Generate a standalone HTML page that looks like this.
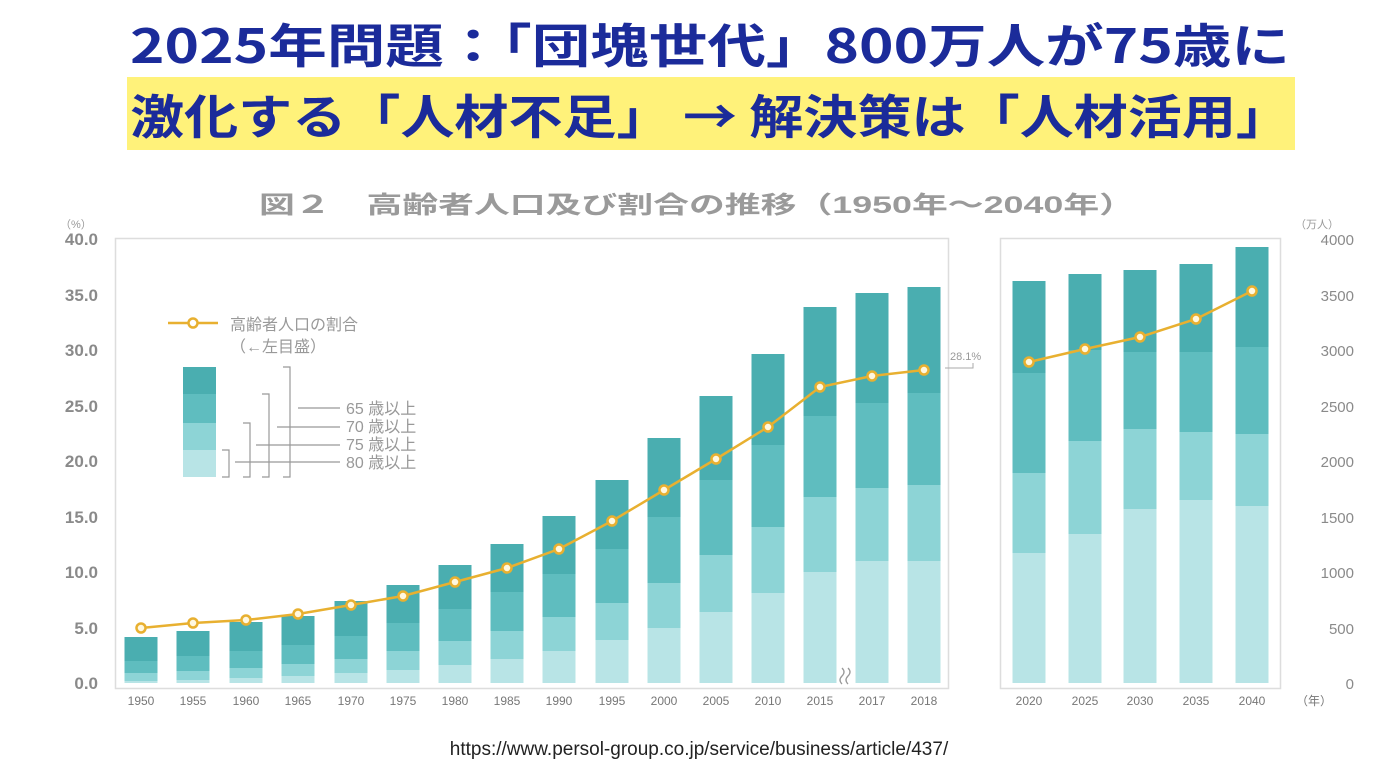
<!DOCTYPE html>
<html><head><meta charset="utf-8"><style>
html,body{margin:0;padding:0;background:#fff;width:1398px;height:783px;overflow:hidden}
svg{display:block}
</style></head><body>
<svg width="1398" height="783" xmlns="http://www.w3.org/2000/svg" font-family="'Liberation Sans','Noto Sans CJK JP',sans-serif">
<rect x="127" y="77" width="1168" height="73" fill="#fff27a"/>
<text x="710" y="63" text-anchor="middle" font-size="47" font-weight="bold" fill="#1b2b9a" font-family="'Noto Sans CJK JP',sans-serif" textLength="1160" lengthAdjust="spacingAndGlyphs">2025年問題：「団塊世代」800万人が75歳に</text>
<text x="710" y="134" text-anchor="middle" font-size="47" font-weight="bold" fill="#1b2b9a" font-family="'Noto Sans CJK JP',sans-serif" textLength="1160" lengthAdjust="spacingAndGlyphs">激化する「人材不足」 → 解決策は「人材活用」</text>
<text x="697" y="213" text-anchor="middle" font-size="24" font-weight="bold" fill="#9a9a9a" textLength="876" lengthAdjust="spacingAndGlyphs">図２　高齢者人口及び割合の推移（1950年～2040年）</text>
<rect x="115.5" y="238.5" width="833" height="450" fill="none" stroke="#ddd" stroke-width="1.5"/>
<rect x="1000.5" y="238.5" width="280" height="450" fill="none" stroke="#ddd" stroke-width="1.5"/>
<g font-size="17" fill="#8a8a8a" text-anchor="end" font-weight="bold">
<text x="98" y="245">40.0</text><text x="98" y="301">35.0</text><text x="98" y="356">30.0</text><text x="98" y="412">25.0</text><text x="98" y="467">20.0</text><text x="98" y="523">15.0</text><text x="98" y="578">10.0</text><text x="98" y="634">5.0</text><text x="98" y="689">0.0</text>
</g>
<text x="60" y="228" font-size="11" fill="#999">（%）</text>
<text x="1295" y="228" font-size="11" fill="#999">（万人）</text>
<g font-size="15" fill="#8a8a8a" text-anchor="end">
<text x="1354" y="245">4000</text><text x="1354" y="301">3500</text><text x="1354" y="356">3000</text><text x="1354" y="412">2500</text><text x="1354" y="467">2000</text><text x="1354" y="523">1500</text><text x="1354" y="578">1000</text><text x="1354" y="634">500</text><text x="1354" y="689">0</text>
</g>
<g id="bars"></g>
<g id="lbl" font-size="12" fill="#777" text-anchor="middle"></g>
<text x="1296" y="705" font-size="12" fill="#777">（年）</text>
<path d="M842 668 q4 4 0 8 q-4 4 0 8 M848 668 q4 4 0 8 q-4 4 0 8" stroke="#999" fill="none" stroke-width="1.3"/>
<text x="950" y="360" font-size="11" fill="#999">28.1%</text>
<path d="M973 363 v5 h-28" stroke="#aaa" fill="none"/>
<line x1="168" y1="323" x2="218" y2="323" stroke="#e8b030" stroke-width="2.5"/>
<circle cx="193" cy="323" r="4.5" fill="#fff" stroke="#e8b030" stroke-width="2.5"/>
<text x="230" y="330" font-size="16" fill="#999">高齢者人口の割合</text>
<text x="230" y="352" font-size="16" fill="#999">（←左目盛）</text>
<rect x="183" y="367" width="33" height="27" fill="#4aaeb0"/>
<rect x="183" y="394" width="33" height="29" fill="#5fbdbf"/>
<rect x="183" y="423" width="33" height="27" fill="#8dd4d6"/>
<rect x="183" y="450" width="33" height="27" fill="#b8e4e6"/>
<g stroke="#999" fill="none" stroke-width="1.2">
<path d="M283 367 h7 v110 h-7"/><path d="M262 394 h7 v83 h-7"/><path d="M243 423 h7 v54 h-7"/><path d="M222 450 h7 v27 h-7"/>
<path d="M340 408 h-42 M340 427 h-63 M340 445 h-84 M340 462 h-105"/>
</g>
<g font-size="16" fill="#999"><text x="346" y="414">65 歳以上</text><text x="346" y="432">70 歳以上</text><text x="346" y="450">75 歳以上</text><text x="346" y="468">80 歳以上</text></g>
<polyline id="l1" fill="none" stroke="#e8b030" stroke-width="2.5"/>
<polyline id="l2" fill="none" stroke="#e8b030" stroke-width="2.5"/>
<g id="dots"></g>
<text x="699" y="755" text-anchor="middle" font-size="19" fill="#222">https://www.persol-group.co.jp/service/business/article/437/</text>
</svg>
<script>
var ns="http://www.w3.org/2000/svg";
var L=[["1950",141,681,673,661,637,628],["1955",193,680,671,656,631,623],["1960",246,678,668,651,622,620],["1965",298,676,664,645,616,614],["1970",351,673,659,636,601,605],["1975",403,670,651,623,585,596],["1980",455,665,641,609,565,582],["1985",507,659,631,592,544,568],["1990",559,651,617,574,516,549],["1995",612,640,603,549,480,521],["2000",664,628,583,517,438,490],["2005",716,612,555,480,396,459],["2010",768,593,527,445,354,427],["2015",820,572,497,416,307,387],["2017",872,561,488,403,293,376],["2018",924,561,485,393,287,370]];
var R=[["2020",1029,553,473,373,281,362],["2025",1085,534,441,350,274,349],["2030",1140,509,429,352,270,337],["2035",1196,500,432,352,264,319],["2040",1252,506,434,347,247,291]];
var C=["#b8e4e6","#8dd4d6","#5fbdbf","#4aaeb0"];
var bars=document.getElementById("bars"),lbl=document.getElementById("lbl"),dots=document.getElementById("dots");
function el(t,a,p){var e=document.createElementNS(ns,t);for(var k in a)e.setAttribute(k,a[k]);p.appendChild(e);return e;}
function draw(D,id){var pts=[];D.forEach(function(d){var x=d[1]-16.5,prev=683;for(var i=0;i<4;i++){el("rect",{x:x,y:d[2+i],width:33,height:prev-d[2+i],fill:C[i]},bars);prev=d[2+i];}
var t=el("text",{x:d[1],y:705},lbl);t.textContent=d[0];pts.push(d[1]+","+d[6]);
el("circle",{cx:d[1],cy:d[6],r:4.5,fill:"#fff8e0",stroke:"#e8b030","stroke-width":2.5},dots);});
document.getElementById(id).setAttribute("points",pts.join(" "));}
draw(L,"l1");draw(R,"l2");
</script>
</body></html>
